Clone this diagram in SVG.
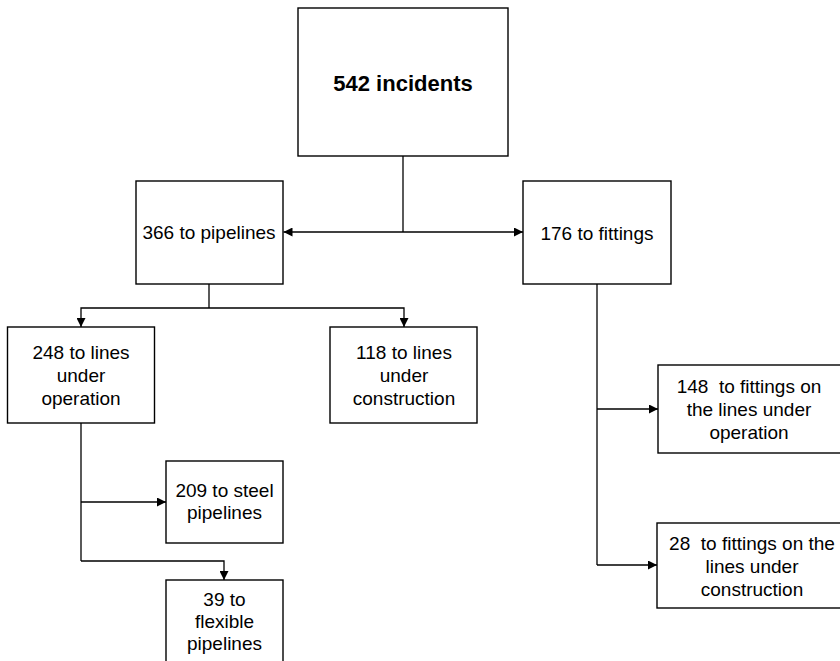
<svg xmlns="http://www.w3.org/2000/svg" width="840" height="661" viewBox="0 0 840 661">
<defs>
<marker id="arr" viewBox="0 0 10 10" refX="10" refY="5" markerUnits="userSpaceOnUse" markerWidth="11" markerHeight="9" orient="auto">
<path d="M0,0 L10,5 L0,10 z" fill="#000"/>
</marker>
</defs>
<style>
rect{fill:#fff;stroke:#000;stroke-width:1.4}
text{font-family:"Liberation Sans",Arial,sans-serif;font-size:19px;fill:#000;text-anchor:middle;white-space:pre}
.b{font-weight:bold;font-size:22px}
.c{fill:none;stroke:#000;stroke-width:1.3}
.a{marker-end:url(#arr)}
</style>
<rect width="840" height="661" style="fill:#fff;stroke:none"/>
<g id="connectors">
<path class="c" d="M403,156 V232"/>
<path class="c a" d="M403,232 H283.5"/>
<path class="c a" d="M403,232 H523"/>
<path class="c" d="M209,284 V308"/>
<path class="c a" d="M209,308 H81 V327"/>
<path class="c a" d="M209,308 H404 V327"/>
<path class="c" d="M81,423 V561"/>
<path class="c a" d="M81,502 H166"/>
<path class="c a" d="M81,561 H224 V580"/>
<path class="c" d="M597,284 V565"/>
<path class="c a" d="M597,409 H658"/>
<path class="c a" d="M597,565 H657"/>
</g>
<g id="n542">
<rect x="298" y="8" width="210" height="148"/>
<text class="b" x="403" y="91">542 incidents</text>
</g>
<g id="n366">
<rect x="136" y="181" width="147" height="103"/>
<text x="209" y="239">366 to pipelines</text>
</g>
<g id="n176">
<rect x="523" y="181" width="148" height="103"/>
<text x="597" y="240">176 to fittings</text>
</g>
<g id="n248">
<rect x="7.5" y="327" width="147" height="96"/>
<text x="81" y="359">248 to lines</text>
<text x="81" y="382">under</text>
<text x="81" y="405">operation</text>
</g>
<g id="n118">
<rect x="330" y="327" width="147" height="96"/>
<text x="404" y="359">118 to lines</text>
<text x="404" y="382">under</text>
<text x="404" y="405">construction</text>
</g>
<g id="n209">
<rect x="166" y="461" width="117" height="82"/>
<text x="224.5" y="497">209 to steel</text>
<text x="224.5" y="519">pipelines</text>
</g>
<g id="n39">
<rect x="166" y="580" width="117" height="100"/>
<text x="224.5" y="606">39 to</text>
<text x="224.5" y="628">flexible</text>
<text x="224.5" y="650">pipelines</text>
</g>
<g id="n148">
<rect x="658" y="365" width="200" height="88"/>
<text x="749" y="393" xml:space="preserve">148  to fittings on</text>
<text x="749" y="416">the lines under</text>
<text x="749" y="439">operation</text>
</g>
<g id="n28">
<rect x="657" y="523" width="200" height="85"/>
<text x="752" y="550" xml:space="preserve">28  to fittings on the</text>
<text x="752" y="573">lines under</text>
<text x="752" y="596">construction</text>
</g>
</svg>
